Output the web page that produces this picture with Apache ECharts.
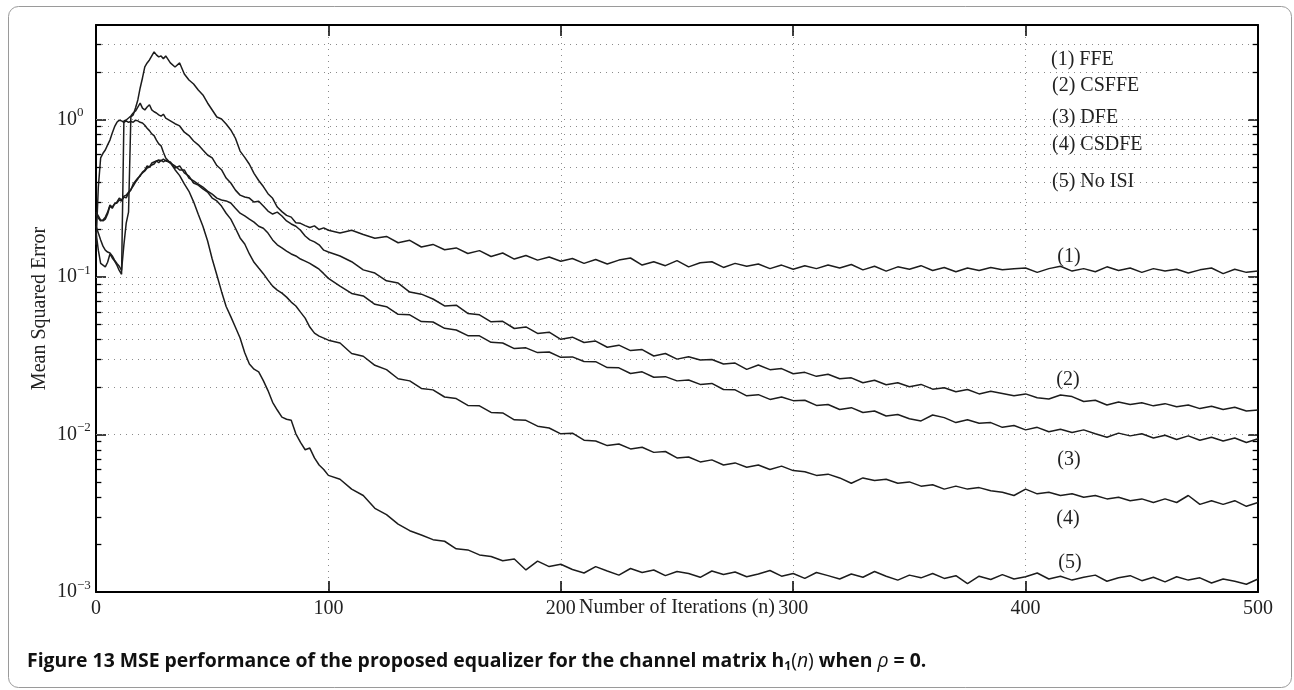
<!DOCTYPE html>
<html><head><meta charset="utf-8">
<script src="https://cdn.jsdelivr.net/npm/echarts@6/dist/echarts.min.js"></script>
<style>html,body{margin:0;padding:0;background:#fff;}#c{width:1294px;height:690px;}</style>
</head><body><div id="c"></div>
<script>
// Iteration index samples (x values)
const itersA = [0,1,2,3,4,5,6,7,8,9,10,11,12,13,14,15,16,17,18,19,20,21,22,23,24,25,26,27,28,29,30];
const itersB = [32,34,36,38,40,42,44,46,48,50,52,54,56,58,60,62,64,66,68,70,72,74,76,78,80,82,84,86,88,90,92,94,96,98,100];
const itersC = [105,110,115,120,125,130,135,140,145,150,155,160,165,170,175,180,185,190,195,200,
  205,210,215,220,225,230,235,240,245,250,255,260,265,270,275,280,285,290,295,300,
  305,310,315,320,325,330,335,340,345,350,355,360,365,370,375,380,385,390,395,400,
  405,410,415,420,425,430,435,440,445,450,455,460,465,470,475,480,485,490,495,500];

// (1) FFE
const mseFFE = [0.21,0.19,0.172,0.157,0.148,0.144,0.142,0.136,0.128,0.122,0.117,0.11,0.16,0.22,0.258,1.037,1.068,1.183,1.33,1.585,1.835,2.155,2.286,2.388,2.533,2.686,2.571,2.496,2.533,2.43,2.533,
  2.286,2.155,2.286,1.946,1.782,1.681,1.54,1.431,1.273,1.149,1.037,1.007,0.936,0.858,0.76,0.63,0.575,0.52,0.455,0.41,0.375,0.338,0.316,0.278,0.26,0.246,0.24,0.221,0.219,0.212,0.206,0.211,0.2,0.205,0.198,
  0.19,0.198,0.186,0.176,0.181,0.165,0.171,0.155,0.161,0.149,
  0.153,0.141,0.147,0.135,0.142,0.130,0.137,0.128,0.134,0.126,
  0.131,0.122,0.129,0.121,0.128,0.132,0.119,0.125,0.118,0.127,
  0.116,0.123,0.125,0.115,0.122,0.117,0.121,0.113,0.119,0.112,
  0.118,0.113,0.119,0.114,0.12,0.111,0.117,0.109,0.116,0.112,
  0.118,0.11,0.115,0.108,0.114,0.11,0.115,0.111,0.113,0.114,
  0.107,0.113,0.117,0.109,0.113,0.108,0.116,0.11,0.114,0.107,
  0.113,0.109,0.112,0.106,0.111,0.114,0.105,0.112,0.107,0.109];
// (2) CSFFE
const mseCSFFE = [0.193,0.148,0.122,0.119,0.116,0.124,0.140,0.132,0.126,0.119,0.110,0.104,0.978,0.993,1.022,1.052,1.100,1.132,1.20,1.27,1.18,1.15,1.20,1.24,1.15,1.12,1.10,1.07,1.05,1.08,1.02,
  0.98,0.94,0.91,0.83,0.79,0.73,0.69,0.64,0.595,0.57,0.51,0.48,0.425,0.395,0.356,0.331,0.322,0.317,0.299,0.303,0.282,0.262,0.251,0.258,0.244,0.227,0.217,0.21,0.198,0.182,0.172,0.167,0.16,0.148,0.144,
  0.136,0.125,0.111,0.106,0.0945,0.0915,0.0802,0.0778,0.0725,0.0655,
  0.0662,0.0587,0.0575,0.0519,0.0523,0.0471,0.0482,0.0438,0.0446,0.0402,
  0.0415,0.0384,0.0392,0.0358,0.0369,0.0341,0.0346,0.0315,0.0327,0.0301,
  0.0312,0.0297,0.0299,0.028,0.0284,0.0259,0.0276,0.0258,0.0262,0.0243,
  0.0248,0.0234,0.0241,0.0226,0.0229,0.0213,0.0221,0.0207,0.0213,0.0201,
  0.0208,0.0194,0.0198,0.0187,0.0193,0.0181,0.0188,0.0182,0.0176,0.0181,
  0.0171,0.0168,0.0178,0.0174,0.0162,0.0165,0.0154,0.0161,0.0155,0.0159,
  0.0152,0.0157,0.015,0.0154,0.0146,0.0151,0.0144,0.0149,0.0141,0.0143];
// (3) DFE
const mseDFE = [0.251,0.237,0.227,0.23,0.24,0.258,0.286,0.278,0.291,0.295,0.308,0.304,0.322,0.318,0.341,0.356,0.389,0.407,0.425,0.437,0.464,0.478,0.507,0.5,0.529,0.537,0.545,0.532,0.553,0.537,0.553,
  0.529,0.507,0.478,0.478,0.425,0.407,0.389,0.372,0.351,0.336,0.317,0.308,0.304,0.295,0.273,0.254,0.244,0.233,0.223,0.21,0.204,0.19,0.172,0.16,0.153,0.146,0.14,0.136,0.13,0.126,0.122,0.117,0.112,0.105,0.098,
  0.0875,0.0786,0.0758,0.0671,0.0648,0.0579,0.0575,0.0521,0.0518,0.0472,
  0.0461,0.0424,0.0423,0.0385,0.0381,0.0351,0.0355,0.0331,0.0334,0.0309,
  0.0311,0.0291,0.029,0.0266,0.0265,0.0244,0.025,0.0231,0.0233,0.0219,
  0.0222,0.0208,0.0211,0.0193,0.0192,0.0176,0.0179,0.0167,0.0173,0.0164,
  0.0165,0.0153,0.0155,0.0144,0.0148,0.0138,0.0141,0.0131,0.0134,0.0126,
  0.0122,0.0133,0.0128,0.0119,0.0124,0.0118,0.0119,0.0111,0.0114,0.0107,
  0.0111,0.0104,0.0108,0.0103,0.0107,0.0101,0.0096,0.0102,0.0098,0.0101,
  0.0095,0.0099,0.0093,0.0098,0.0092,0.0096,0.0091,0.0095,0.0089,0.0094];
// (4) CSDFE
const mseCSDFE = [0.258,0.244,0.230,0.227,0.233,0.251,0.282,0.273,0.291,0.299,0.317,0.308,0.326,0.33,0.345,0.36,0.378,0.4,0.419,0.444,0.458,0.471,0.492,0.499,0.514,0.522,0.545,0.553,0.545,0.561,0.545,
  0.537,0.492,0.507,0.458,0.437,0.395,0.383,0.362,0.346,0.317,0.304,0.282,0.254,0.233,0.204,0.177,0.162,0.14,0.124,0.114,0.105,0.0955,0.0875,0.0826,0.079,0.0745,0.0693,0.0654,0.0598,0.0548,0.0481,0.044,0.0421,0.0409,0.0397,
  0.0381,0.0327,0.0314,0.0275,0.0258,0.0226,0.0219,0.0196,0.0192,0.0173,
  0.0169,0.0153,0.0152,0.0138,0.0137,0.0124,0.0123,0.0113,0.011,0.0101,
  0.0102,0.0092,0.0091,0.0085,0.0087,0.0081,0.0083,0.0077,0.0078,0.0071,
  0.0072,0.0067,0.0069,0.0064,0.0066,0.0062,0.0064,0.006,0.0063,0.0059,
  0.0058,0.0055,0.0056,0.0053,0.0049,0.0053,0.0051,0.0052,0.0049,0.005,
  0.0047,0.0048,0.0045,0.0047,0.0045,0.0046,0.0044,0.0043,0.0041,0.0045,
  0.0042,0.0043,0.0041,0.0042,0.004,0.0041,0.0039,0.004,0.0038,0.0039,
  0.0037,0.0039,0.0037,0.0041,0.0036,0.0038,0.0036,0.0038,0.0035,0.0037];
// (5) No ISI
const mseNoISI = [0.16,0.373,0.57,0.61,0.64,0.69,0.74,0.82,0.9,0.96,0.99,0.98,0.96,0.98,0.96,0.97,0.96,0.99,0.98,0.96,0.95,0.92,0.88,0.85,0.81,0.79,0.74,0.7,0.68,0.62,0.57,
  0.53,0.48,0.44,0.39,0.35,0.3,0.25,0.21,0.17,0.13,0.103,0.081,0.065,0.056,0.048,0.041,0.033,0.028,0.026,0.025,0.022,0.019,0.016,0.0143,0.0129,0.0125,0.0123,0.0101,0.0089,0.008,0.0082,0.0071,0.0064,0.006,0.0055,
  0.0052,0.0045,0.0041,0.0034,0.0031,0.0027,0.00245,0.0023,0.00215,0.0021,
  0.00188,0.00185,0.00172,0.00168,0.00158,0.00162,0.00138,0.00157,0.00145,0.0015,
  0.00139,0.00132,0.00145,0.00136,0.00128,0.00141,0.00133,0.00138,0.00127,0.00135,
  0.00131,0.00124,0.00136,0.00129,0.00134,0.00125,0.0013,0.00137,0.00126,0.00131,
  0.00122,0.00133,0.00127,0.00121,0.0013,0.00124,0.00135,0.00126,0.00119,0.00128,
  0.00123,0.00131,0.00122,0.00127,0.00113,0.00126,0.0012,0.00129,0.00121,0.00125,
  0.00132,0.00121,0.00126,0.00119,0.00124,0.00128,0.00117,0.00123,0.00127,0.00118,
  0.00124,0.00116,0.00125,0.00119,0.00123,0.00114,0.00121,0.00117,0.00112,0.00121];

const legendLabels = ['(1) FFE','(2) CSFFE','(3) DFE','(4) CSDFE','(5) No ISI'];
const curveTags = ['(1)','(2)','(3)','(4)','(5)'];
const xTicks = [0,100,200,300,400,500];

const iters = itersA.concat(itersB, itersC);
const seriesList = [mseFFE, mseCSFFE, mseDFE, mseCSDFE, mseNoISI];

const SERIF = '"Liberation Serif", "Times New Roman", serif';
const SANS = '"Open Sans", "Noto Sans", sans-serif';
const FS = 20;
const CFS = 19.4;

// axis decoration values (grid lines & minor ticks at 1..9 x 10^k)
const gridVals = [];
const minorVals = [];
for (let e = -3; e <= 0; e++) {
  for (let m = 1; m <= 9; m++) {
    const v = +(m * Math.pow(10, e)).toPrecision(6);
    if (v > 0.001 && v < 3.9) gridVals.push(v);
    if (m !== 1 && v < 3.9) minorVals.push(v);
  }
}

const dotted = { color: '#8a8a8a', type: [1, 5], width: 1 };
const markGrid = gridVals.map(v => ({ yAxis: v, lineStyle: dotted }));
const markTicks = [];
minorVals.forEach(v => {
  markTicks.push([{ coord: [0, v] }, { coord: [2.3, v] }]);
  markTicks.push([{ coord: [497.7, v] }, { coord: [500, v] }]);
});

function yLabel(v) {
  const lg = Math.log10(v);
  const e = Math.round(lg);
  if (Math.abs(lg - e) > 1e-6) return '';
  return '{b|10}{s|' + (e < 0 ? '\u2212' + (-e) : String(e)) + '}';
}

const chart = echarts.init(document.getElementById('c'), null, { renderer: 'canvas' });

const curveSeries = seriesList.map((arr, k) => ({
  type: 'line',
  name: legendLabels[k],
  data: iters.map((n, i) => [n, arr[i]]),
  showSymbol: false,
  symbol: 'none',
  lineStyle: { color: '#1c1c1c', width: 1.5 },
  z: 5,
  silent: true
}));

const helper = {
  type: 'line',
  data: [[0, 1]],
  showSymbol: false,
  symbol: 'none',
  lineStyle: { opacity: 0 },
  z: 1,
  silent: true,
  markLine: {
    silent: true,
    symbol: ['none', 'none'],
    label: { show: false },
    animation: false,
    data: markGrid.concat(markTicks.map(p => [Object.assign({}, p[0], { lineStyle: { color: '#000', width: 1.3, type: 'solid' } }), p[1]]))
  }
};

const axisLineStyle = { color: '#000', width: 2 };

chart.setOption({
  animation: false,
  backgroundColor: '#fff',
  grid: { left: 96, top: 25, width: 1162, height: 567, outerBoundsMode: 'none', containLabel: false },
  title: {
    left: 27, top: 649, padding: 0,
    text: '{fb|Figure 13} {fb|MSE performance of the proposed equalizer for the channel matrix }{fb|h}{sub|1}{rg|(}{it|n}{rg|)}{fb| when }{it|\u03c1}{fb| = 0.}',
    textStyle: {
      rich: {
        fb: { fontFamily: SANS, fontWeight: 700, fontSize: CFS, color: '#111', lineHeight: 24 },
        sub: { fontFamily: SANS, fontWeight: 700, fontSize: 12, color: '#111', lineHeight: 13, verticalAlign: 'bottom' },
        rg: { fontFamily: SANS, fontWeight: 400, fontSize: CFS, color: '#111', lineHeight: 24 },
        it: { fontFamily: SANS, fontWeight: 400, fontStyle: 'italic', fontSize: CFS, color: '#111', lineHeight: 24 }
      }
    }
  },
  xAxis: [{
    type: 'value', min: 0, max: 500, interval: 100, position: 'bottom',
    axisLine: { show: true, onZero: false, lineStyle: axisLineStyle },
    axisTick: { show: true, inside: true, length: 11, lineStyle: { color: '#000', width: 1.5 } },
    axisLabel: { fontFamily: SERIF, fontSize: FS, color: '#222', margin: 7,
      formatter: v => (xTicks.indexOf(v) >= 0 ? String(v) : '') },
    splitLine: { show: true, lineStyle: dotted },
    name: 'Number of Iterations (n)', nameLocation: 'middle', nameGap: 6, nameMoveOverlap: false,
    nameTextStyle: { fontFamily: SERIF, fontSize: FS, color: '#222' }
  }, {
    type: 'value', min: 0, max: 500, interval: 100, position: 'top',
    axisLine: { show: true, onZero: false, lineStyle: axisLineStyle },
    axisTick: { show: true, inside: true, length: 11, lineStyle: { color: '#000', width: 1.5 } },
    axisLabel: { show: false }, splitLine: { show: false }
  }],
  yAxis: [{
    type: 'log', logBase: 10, min: 0.001, max: 3.98, position: 'left',
    axisLine: { show: true, onZero: false, lineStyle: axisLineStyle },
    axisTick: { show: true, inside: true, length: 10, lineStyle: { color: '#000', width: 1.5 } },
    axisLabel: {
      formatter: yLabel, align: 'left', margin: 39, color: '#222',
      rich: {
        b: { fontFamily: SERIF, fontSize: FS, lineHeight: 26, color: '#222' },
        s: { fontFamily: SERIF, fontSize: 13, lineHeight: 14, verticalAlign: 'top', color: '#222' }
      }
    },
    splitLine: { show: false },
    name: 'Mean Squared Error', nameLocation: 'middle', nameGap: 46, nameRotate: 90, nameMoveOverlap: false,
    nameTextStyle: { fontFamily: SERIF, fontSize: FS, color: '#222' }
  }, {
    type: 'log', logBase: 10, min: 0.001, max: 3.98, position: 'right',
    axisLine: { show: true, onZero: false, lineStyle: axisLineStyle },
    axisTick: { show: true, inside: true, length: 10, lineStyle: { color: '#000', width: 1.5 } },
    axisLabel: { show: false }, splitLine: { show: false }
  }],
  series: [helper].concat(curveSeries),
  graphic: [
    { type: 'rect', silent: true, shape: { x: 8.5, y: 6.5, width: 1283, height: 681, r: 10 },
      style: { fill: 'none', stroke: '#9a9a9a', lineWidth: 1 } },
    { type: 'text', x: 1051, y: 60, style: { text: legendLabels[0], fontFamily: SERIF, fontSize: FS, fill: '#222', align: 'left', verticalAlign: 'middle' } },
    { type: 'text', x: 1052, y: 86, style: { text: legendLabels[1], fontFamily: SERIF, fontSize: FS, fill: '#222', align: 'left', verticalAlign: 'middle' } },
    { type: 'text', x: 1052, y: 118, style: { text: legendLabels[2], fontFamily: SERIF, fontSize: FS, fill: '#222', align: 'left', verticalAlign: 'middle' } },
    { type: 'text', x: 1052, y: 145, style: { text: legendLabels[3], fontFamily: SERIF, fontSize: FS, fill: '#222', align: 'left', verticalAlign: 'middle' } },
    { type: 'text', x: 1052, y: 182, style: { text: legendLabels[4], fontFamily: SERIF, fontSize: FS, fill: '#222', align: 'left', verticalAlign: 'middle' } },
    { type: 'text', x: 1069, y: 257, style: { text: curveTags[0], fontFamily: SERIF, fontSize: FS, fill: '#222', align: 'center', verticalAlign: 'middle' } },
    { type: 'text', x: 1068, y: 380, style: { text: curveTags[1], fontFamily: SERIF, fontSize: FS, fill: '#222', align: 'center', verticalAlign: 'middle' } },
    { type: 'text', x: 1069, y: 460, style: { text: curveTags[2], fontFamily: SERIF, fontSize: FS, fill: '#222', align: 'center', verticalAlign: 'middle' } },
    { type: 'text', x: 1068, y: 519, style: { text: curveTags[3], fontFamily: SERIF, fontSize: FS, fill: '#222', align: 'center', verticalAlign: 'middle' } },
    { type: 'text', x: 1070, y: 563, style: { text: curveTags[4], fontFamily: SERIF, fontSize: FS, fill: '#222', align: 'center', verticalAlign: 'middle' } }
  ]
});
</script>
</body></html>
